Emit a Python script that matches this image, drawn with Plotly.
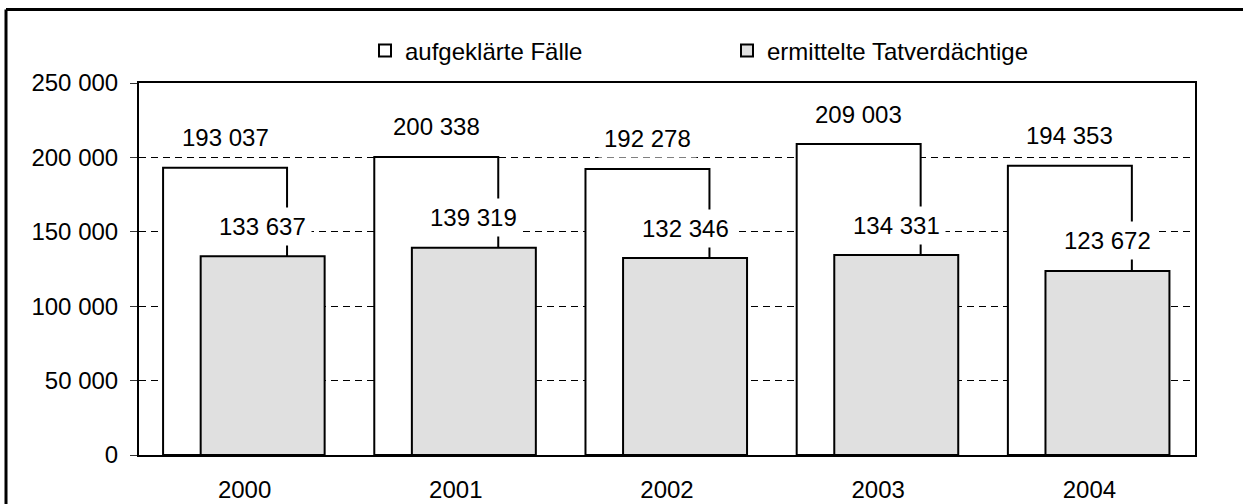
import plotly.graph_objects as go

years = ["2000", "2001", "2002", "2003", "2004"]
cleared = [193037, 200338, 192278, 209003, 194353]
suspects = [133637, 139319, 132346, 134331, 123672]
name_cleared = "aufgeklärte Fälle"
name_suspects = "ermittelte Tatverdächtige"
y_ticks = [0, 50000, 100000, 150000, 200000, 250000]

FONT = "Liberation Sans, Arial, sans-serif"
FS = 24
W_BAR = 0.587
OFF_WHITE = -0.386
OFF_GREY = -0.208

def fmt(v):
    return f"{v:,}".replace(",", " ")

fig = go.Figure()
fig.add_trace(go.Bar(
    x=years, y=cleared, name=name_cleared,
    offset=OFF_WHITE, width=W_BAR,
    marker=dict(color="white", line=dict(color="black", width=2)),
))
fig.add_trace(go.Bar(
    x=years, y=suspects, name=name_suspects,
    offset=OFF_GREY, width=W_BAR,
    marker=dict(color="#e0e0e0", line=dict(color="black", width=2)),
))

annotations = []
for i, v in enumerate(cleared):
    annotations.append(dict(
        x=i + OFF_WHITE + W_BAR / 2, y=v, xref="x", yref="y",
        text=fmt(v), showarrow=False, yanchor="middle", yshift=30,
        bgcolor="white", borderpad=5,
        font=dict(family=FONT, size=FS, color="black"),
    ))
for i, v in enumerate(suspects):
    annotations.append(dict(
        x=i + OFF_GREY + W_BAR / 2, y=v, xref="x", yref="y",
        text=fmt(v), showarrow=False, yanchor="middle", yshift=30,
        bgcolor="white", borderpad=5,
        font=dict(family=FONT, size=FS, color="black"),
    ))

L, R, T, B = 139, 48, 83, 49
PW, PH = 1243 - L - R, 504 - T - B

def px_x(p):
    return (p - L) / PW

def px_y(p):
    return (504 - B - p) / PH

shapes = [
    dict(type="line", xref="paper", yref="paper",
         x0=px_x(6), x1=px_x(1260), y0=px_y(9.5), y1=px_y(9.5),
         line=dict(color="black", width=3)),
    dict(type="line", xref="paper", yref="paper",
         x0=px_x(6), x1=px_x(6), y0=px_y(9.5), y1=px_y(520),
         line=dict(color="black", width=3)),
]

fig.update_layout(
    width=1243, height=504,
    margin=dict(l=L, r=R, t=T, b=B, autoexpand=False),
    paper_bgcolor="white", plot_bgcolor="white",
    barmode="overlay",
    separators=", ",
    font=dict(family=FONT, size=FS, color="black"),
    showlegend=True,
    legend=dict(
        orientation="h", x=px_x(365), xanchor="left",
        y=px_y(51), yanchor="middle",
        font=dict(family=FONT, size=FS, color="black"),
        entrywidth=317, entrywidthmode="pixels",
        bgcolor="rgba(0,0,0,0)",
    ),
    annotations=annotations,
    shapes=shapes,
)
fig.update_xaxes(
    type="category", range=[-0.5, 4.5], automargin=False,
    showline=True, linecolor="black", linewidth=2, mirror=True,
    ticks="", showgrid=False, ticklabelstandoff=12,
    tickfont=dict(family=FONT, size=FS, color="black"),
)
fig.update_yaxes(
    range=[0, 250000], tickvals=y_ticks, tickformat=",d", automargin=False,
    showline=True, linecolor="black", linewidth=2, mirror=True,
    ticks="outside", ticklen=7, tickcolor="#333", tickwidth=1,
    ticklabelstandoff=7,
    showgrid=True, gridcolor="black", gridwidth=1, griddash="7px,5px",
    zeroline=False,
    tickfont=dict(family=FONT, size=FS, color="black"),
)

fig.write_html(
    "out.html",
    config={"displayModeBar": False},
    post_script="document.body.style.margin='0px';document.body.style.overflow='hidden';",
)
